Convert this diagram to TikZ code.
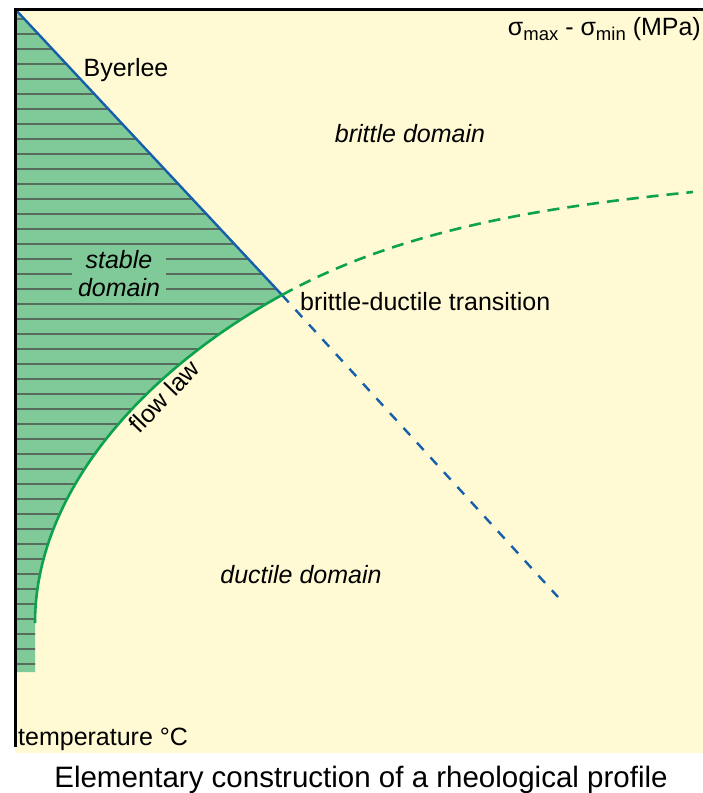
\documentclass[tikz,border=0pt]{standalone}
\usepackage{fontspec}
\setmainfont{Liberation Sans}
\definecolor{paper}{RGB}{255,250,212}
\definecolor{stablegreen}{RGB}{128,201,152}
\definecolor{hatch}{RGB}{88,108,94}
\definecolor{byerleeblue}{RGB}{22,95,170}
\definecolor{flowgreen}{RGB}{12,162,78}
\tikzset{
  lbl/.style={inner sep=0pt, font=\fontsize{25}{28}\selectfont},
  ilbl/.style={lbl, font=\fontsize{25}{28}\selectfont\itshape},
  axisline/.style={line width=3pt, black},
  byerlee/.style={line width=2.4pt, byerleeblue},
  flowlaw/.style={line width=2.6pt, flowgreen},
  hatchline/.style={line width=1.1pt, hatch},
}
\begin{document}
\begin{tikzpicture}[x=1pt, y=-1pt]
  \useasboundingbox (0,0) rectangle (703,793);
  \fill[white] (0,0) rectangle (703,793);
  % diagram panel
  \fill[paper] (15,9) rectangle (703,753);

  % key points of the construction
  \coordinate (top) at (15,9);
  \coordinate (bdt) at (282,295);
  \coordinate (foot) at (35,623);
  \coordinate (blueEnd) at (558,597);
  \coordinate (greenEnd) at (693,192);

  % stable domain: under Byerlee, above the flow law
  \def\stablepath{(top) -- (bdt) .. controls (142,372) and (35,493) .. (foot) -- (35,672) -- (15,672) -- cycle}
  \fill[stablegreen] \stablepath;
  \begin{scope}
    \clip \stablepath;
    \foreach \k in {0,...,43} {
      \draw[hatchline] (10,19+15*\k) -- (300,19+15*\k);
    }
  \end{scope}

  % label of the stable domain, masking the hatching
  \node[fill=stablegreen, inner sep=0pt, minimum width=94pt, minimum height=45pt,
        align=center, font=\fontsize{25}{28}\selectfont\itshape] (stable) at (119,274) {stable\\domain};

  % Byerlee friction line and its extension
  \draw[byerlee] (top) -- (bdt);
  \draw[byerlee, dash pattern=on 10pt off 10pt] (bdt) -- (blueEnd);

  % flow law and its extension
  \draw[flowlaw] (foot) .. controls (35,493) and (142,372) .. (bdt);
  \draw[flowlaw, dash pattern=on 12pt off 8pt] (bdt) .. controls (402,229) and (543,207) .. (greenEnd);

  % axes
  \draw[axisline] (15,747) -- (15,9) -- (703,9);

  % labels
  \node[lbl, anchor=base] (byer) at (126,76) {Byerlee};
  \node[ilbl, anchor=base] (brittle) at (410,142) {brittle domain};
  \node[lbl, anchor=base west] (trans) at (300,310) {brittle-ductile transition};
  \node[ilbl, anchor=base] (ductile) at (301,583) {ductile domain};
  \node[lbl, rotate=46] (flow) at (164,396) {flow law};
  \node[lbl, anchor=base west] (temp) at (18,745) {temperature °C};
  \node[lbl, anchor=base east] (stress) at (701,35)
    {σ\raisebox{-5pt}{\fontsize{18.5}{18.5}\selectfont max} - σ\raisebox{-5pt}{\fontsize{18.5}{18.5}\selectfont min} (MPa)};
  \node[inner sep=0pt, anchor=base, font=\fontsize{29.5}{32}\selectfont] (caption) at (361,787)
    {Elementary construction of a rheological profile};
\end{tikzpicture}
\end{document}
